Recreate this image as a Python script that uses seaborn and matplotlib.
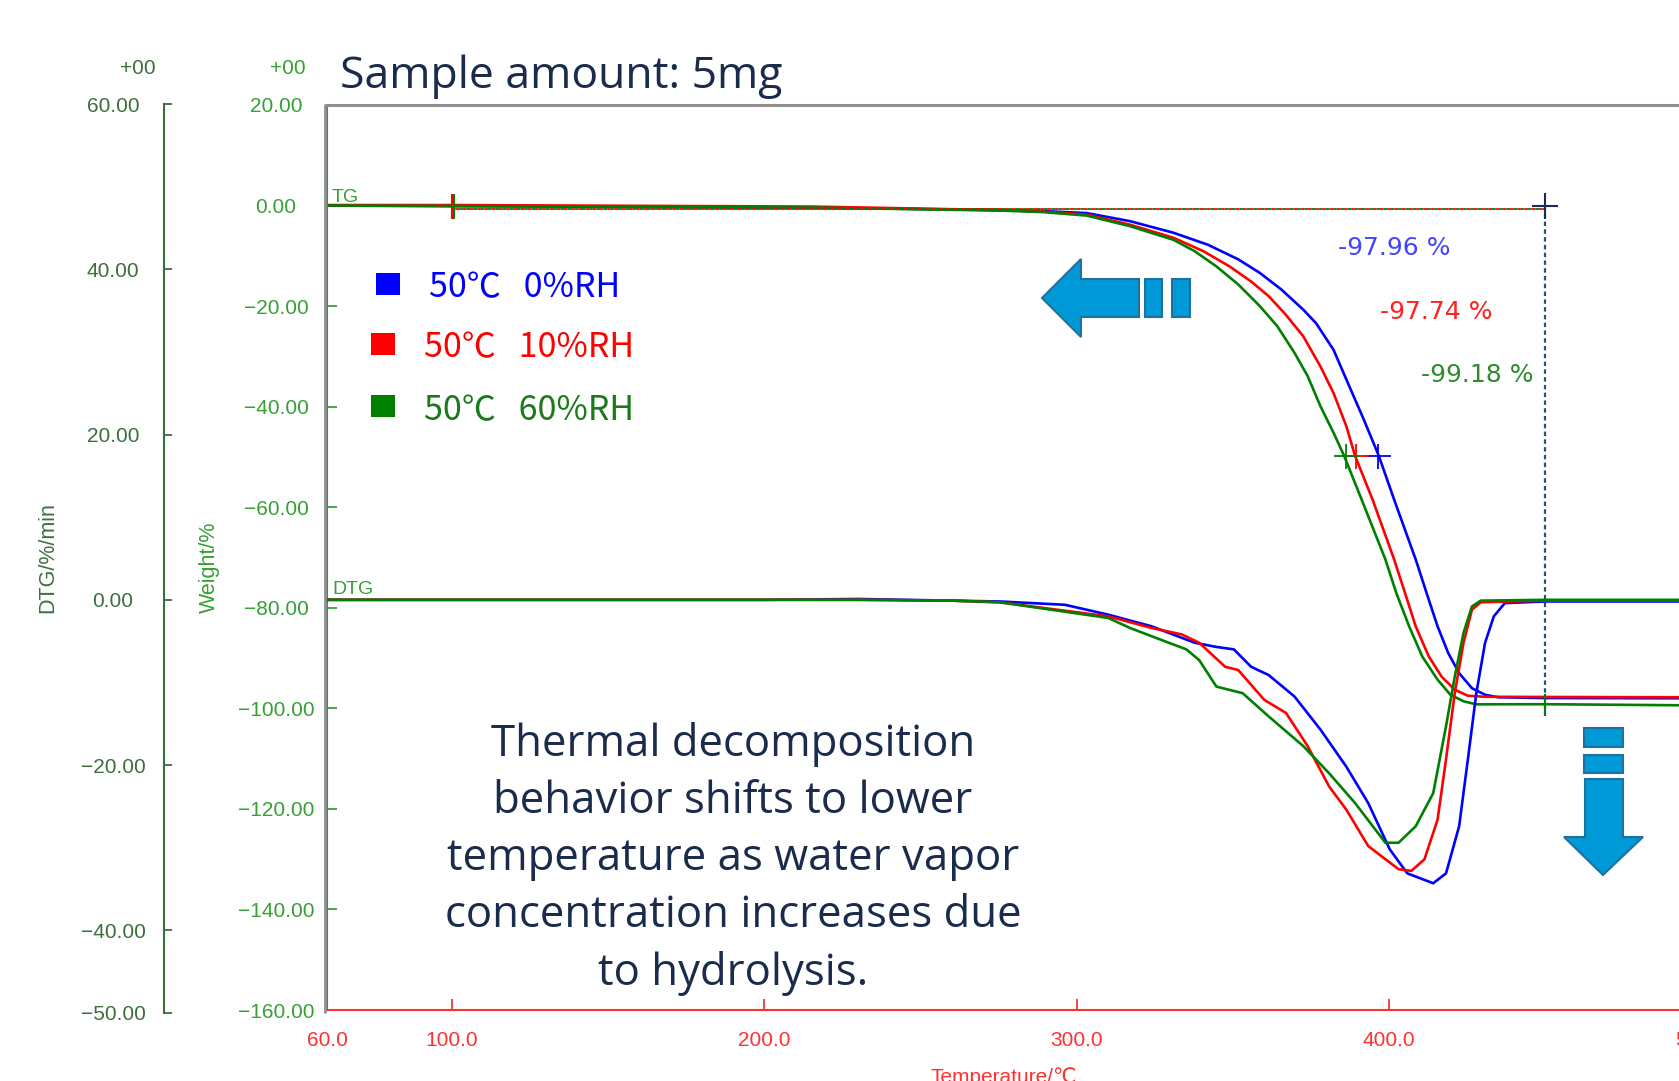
import numpy as np
import pandas as pd
import matplotlib
matplotlib.use("Agg")
import matplotlib.pyplot as plt
import seaborn as sns
from matplotlib.patches import Polygon, Rectangle
from matplotlib.lines import Line2D
from matplotlib.ticker import FuncFormatter

# ---------------- data ----------------
conditions = ["50℃   0%RH", "50℃   10%RH", "50℃   60%RH"]

# TG curves (Temperature °C, Weight %)
tg_T_0 = [60, 100, 215, 275.4, 289.3, 303.2, 317.0, 330.9, 342.0, 351.7, 358.6, 365.5, 372.5, 376.6, 382.2, 386.3,
          391.9, 396.7, 401.6, 408.5, 412.0, 415.5, 418.9, 422.4, 426.5, 430.7, 434.9, 450, 495]
tg_W_0 = [0, -0.1, -0.4, -0.9, -1.1, -1.5, -3.1, -5.4, -7.8, -10.7, -13.4, -16.7, -20.7, -23.4, -28.7, -34.6,
          -42.6, -49.8, -58.5, -70.4, -77.1, -83.7, -89.0, -93.0, -96.0, -97.3, -97.8, -97.96, -98.0]
tg_T_10 = [60, 100, 215, 275.4, 289.3, 303.2, 317.0, 330.9, 340.6, 348.9, 355.8, 361.4, 366.9, 372.5, 378.0, 382.2,
           386.3, 389.1, 394.7, 401.6, 405.1, 408.5, 412.7, 416.8, 421.0, 425.2, 430.7, 450, 495]
tg_W_10 = [0.1, 0.1, -0.2, -0.9, -1.2, -1.8, -3.8, -6.4, -9.1, -12.1, -15.1, -18.0, -21.7, -26.0, -32.0, -37.3,
           -43.9, -49.8, -58.5, -70.4, -77.1, -83.7, -89.7, -93.7, -96.3, -97.5, -97.7, -97.74, -97.8]
tg_T_60 = [60, 100, 215, 275.4, 289.3, 303.2, 317.0, 330.9, 337.8, 344.7, 351.7, 358.6, 364.2, 369.7, 373.9, 378.0,
           382.2, 385.6, 391.2, 398.8, 402.3, 406.4, 410.6, 415.5, 419.6, 423.8, 427.9, 450, 495]
tg_W_60 = [0, -0.1, -0.4, -1.0, -1.3, -2.0, -4.1, -6.8, -9.1, -12.1, -15.7, -20.0, -24.0, -29.3, -33.9, -39.9,
           -45.2, -49.8, -58.5, -70.4, -77.1, -83.7, -89.7, -94.3, -97.3, -98.6, -99.2, -99.18, -99.4]

# DTG curves (Temperature °C, DTG %/min)
dtg_T_0 = [60, 200, 230, 260, 275.4, 296.2, 310.1, 323.9, 337.8, 344.7, 350.3, 355.8, 361.4, 369.7, 378.0, 386.3, 393.3,
           400.2, 405.8, 414.1, 418.2, 422.4, 425.2, 427.9, 430.7, 433.5, 437.0, 450, 495]
dtg_D_0 = [0, 0, 0.1, -0.1, -0.2, -0.6, -1.8, -3.2, -5.2, -5.7, -6.0, -8.1, -9.1, -11.7, -15.7, -20.2, -24.6,
           -30.2, -33.1, -34.3, -33.1, -27.4, -19.3, -11.3, -5.2, -2.0, -0.4, -0.2, -0.2]
dtg_T_10 = [60, 200, 230, 260, 275.4, 310.1, 323.9, 333.7, 339.2, 347.5, 351.7, 360.0, 367.0, 373.9, 380.8, 386.3, 393.3,
            403.0, 407.1, 411.3, 415.5, 418.2, 421.0, 423.8, 426.5, 429.3, 450, 495]
dtg_D_10 = [0, 0, 0, -0.1, -0.3, -2.0, -3.4, -4.2, -5.2, -8.1, -8.5, -12.1, -13.7, -17.7, -22.6, -25.4, -29.8,
            -32.6, -32.8, -31.4, -26.6, -19.3, -11.3, -5.2, -1.2, -0.3, -0.1, -0.1]
dtg_T_60 = [60, 200, 230, 260, 275.4, 310.1, 317.0, 328.1, 335.1, 339.2, 344.7, 353.1, 361.4, 372.5, 380.8, 389.1, 398.8,
            403.0, 408.5, 414.1, 418.2, 421.0, 423.8, 426.5, 429.3, 450, 495]
dtg_D_60 = [0, 0, 0, -0.1, -0.3, -2.2, -3.4, -5.0, -6.0, -7.3, -10.5, -11.3, -14.1, -17.7, -21.0, -24.6, -29.4,
            -29.4, -27.4, -23.4, -15.3, -9.3, -4.0, -0.8, -0.1, 0, 0]

# analysis marks
step_start_T = 100
step_end_T = 450
half_W = -49.75
half_T = [396.3, 389.4, 386.2]
loss_labels = ["-97.96 %", "-97.74 %", "-99.18 %"]
loss_label_T = [401.7, 415.2, 428.3]
loss_label_W = [-8.4, -21.2, -33.8]
final_W_60 = -99.18

weight_ticks = [20, 0, -20, -40, -60, -80, -100, -120, -140, -160]
dtg_ticks = [60, 40, 20, 0, -20, -40, -50]
temp_ticks = [60, 100, 200, 300, 400, 500]

# ---------------- style ----------------
sns.set_theme(style="white")
plt.rcParams["font.family"] = ["Liberation Sans", "DejaVu Sans"]
plt.rcParams["axes.unicode_minus"] = True

BLUE, RED, GREEN = "#0000ff", "#ff0000", "#008000"
palette = dict(zip(conditions, [BLUE, RED, GREEN]))
W_COL = "#35a035"
D_COL = "#3d6e3d"
X_COL = "#ff3030"
NAVY = "#1a2b4c"
ARROW_FC, ARROW_EC = "#0099d8", "#1f6f9f"

FW, FH = 1679, 1081
fig = plt.figure(figsize=(FW / 100, FH / 100), dpi=100)


def fx(x):
    return x / FW


def fy(y):
    return 1 - y / FH


x_left_px, px_per_deg = 327, 3.124
xlim = (60, 520)
ax_w = (xlim[1] - xlim[0]) * px_per_deg

ax = fig.add_axes([fx(x_left_px), fy(1010), ax_w / FW, 905 / FH])
ax2 = fig.add_axes([fx(x_left_px), fy(1013), ax_w / FW, 909 / FH], sharex=ax)
ax2.patch.set_visible(False)

# ---------------- curves ----------------
tg_df = pd.concat([
    pd.DataFrame({"T": tg_T_0, "W": tg_W_0, "cond": conditions[0]}),
    pd.DataFrame({"T": tg_T_10, "W": tg_W_10, "cond": conditions[1]}),
    pd.DataFrame({"T": tg_T_60, "W": tg_W_60, "cond": conditions[2]}),
])
dtg_df = pd.concat([
    pd.DataFrame({"T": dtg_T_0, "D": dtg_D_0, "cond": conditions[0]}),
    pd.DataFrame({"T": dtg_T_10, "D": dtg_D_10, "cond": conditions[1]}),
    pd.DataFrame({"T": dtg_T_60, "D": dtg_D_60, "cond": conditions[2]}),
])

sns.lineplot(data=tg_df, x="T", y="W", hue="cond", hue_order=conditions, palette=palette,
             estimator=None, sort=False, legend=False, lw=1.9, ax=ax)
sns.lineplot(data=dtg_df, x="T", y="D", hue="cond", hue_order=conditions, palette=palette,
             estimator=None, sort=False, legend=False, lw=1.9, ax=ax2)

# step analysis lines
ax.plot([step_start_T, step_end_T], [-0.6, -0.6], color=GREEN, lw=1.3, ls=(0, (2, 2)))
ax.plot([step_start_T, step_end_T], [-0.6, -0.6], color=RED, lw=1.3, ls=(2, (2, 2)))
ax.plot([step_end_T, step_end_T], [0, -101.8], color="#1f5a66", lw=1.6, ls=(0, (2, 1.5)))
ax.plot([step_start_T], [0], marker="+", ms=18, mew=1.5, color=RED)
ax.plot([step_start_T + 0.7], [0], marker="+", ms=18, mew=1.5, color=GREEN)
ax.plot([step_end_T], [0], marker="+", ms=19, mew=1.5, color="#1a2a5a")
ax.plot([step_end_T], [final_W_60], marker="|", ms=14, mew=1.5, color=GREEN)
for t, c in zip(half_T, [BLUE, RED, GREEN]):
    ax.plot([t], [half_W], marker="+", ms=18, mew=1.3, color=c)

for lab, t, w, c in zip(loss_labels, loss_label_T, loss_label_W, ["#4444ff", "#ff2020", "#2e8b2e"]):
    ax.text(t, w, lab, color=c, fontsize=18, family="DejaVu Sans", ha="center", va="center")

# ---------------- axes styling ----------------
ax.set_xlim(*xlim)
ax.set_ylim(-160, 20)
ax2.set_ylim(-50, 60)
ax.set_xlabel("")
ax.set_ylabel("")
ax2.set_xlabel("")
ax2.set_ylabel("")

ax.spines["top"].set_color("#8f8f8f")
ax.spines["top"].set_linewidth(2.2)
ax.spines["left"].set_color("#2e9a2e")
ax.spines["left"].set_linewidth(1.5)
ax.spines["bottom"].set_color(X_COL)
ax.spines["bottom"].set_linewidth(1.5)
ax.spines["right"].set_visible(False)
for s in ["top", "right", "bottom"]:
    ax2.spines[s].set_visible(False)
ax2.spines["left"].set_position(("axes", (164 - x_left_px) / ax_w))
ax2.spines["left"].set_color(D_COL)
ax2.spines["left"].set_linewidth(1.5)

fmt2 = FuncFormatter(lambda v, p: f"{v:.2f}".replace("-", "\u2212"))
fmt1 = FuncFormatter(lambda v, p: f"{v:.1f}")

ax.set_yticks(weight_ticks)
ax.yaxis.set_major_formatter(fmt2)
ax.set_xticks(temp_ticks)
ax.xaxis.set_major_formatter(fmt1)
ax2.set_yticks(dtg_ticks)
ax2.yaxis.set_major_formatter(fmt2)

ax.tick_params(axis="y", direction="in", length=7, width=1.3, color=W_COL, labelcolor=W_COL,
               labelsize=15, pad=36.7, left=True)
ax.tick_params(axis="x", direction="in", length=8, width=1.3, color=X_COL, labelcolor=X_COL,
               labelsize=15, pad=15, bottom=True)
ax2.tick_params(axis="y", direction="in", length=6, width=1.3, color=D_COL, labelcolor=D_COL,
                labelsize=15, pad=36.7, left=True)
ax2.tick_params(axis="x", bottom=False, labelbottom=False)
plt.setp(ax.get_yticklabels(), ha="center")
plt.setp(ax2.get_yticklabels(), ha="center")

fig.add_artist(Line2D([fx(325), fx(325)], [fy(105), fy(1012)], color="#8f8f8f", lw=2.0))

# ---------------- texts ----------------
fig.text(fx(138), fy(68), "+00", color=D_COL, fontsize=15, ha="center", va="center")
fig.text(fx(288), fy(68), "+00", color=W_COL, fontsize=15, ha="center", va="center")
fig.text(fx(48), fy(558), "DTG/%/min", color=D_COL, fontsize=15.5, rotation=90, ha="center", va="center")
fig.text(fx(209), fy(567), "Weight/%", color=W_COL, fontsize=15.5, rotation=90, ha="center", va="center")
fig.text(fx(1004), fy(1083), "Temperature/℃", color=X_COL, fontsize=15, ha="center", va="baseline")
fig.text(fx(332), fy(198), "TG", color=W_COL, fontsize=14, ha="left", va="center")
fig.text(fx(332), fy(590), "DTG", color=W_COL, fontsize=14, ha="left", va="center")

fig.text(fx(340), fy(77), "Sample amount: 5mg", color=NAVY, fontsize=32, family="Open Sans",
         ha="left", va="center")
fig.text(fx(733), fy(859),
         "Thermal decomposition\nbehavior shifts to lower\ntemperature as water vapor\n"
         "concentration increases due\nto hydrolysis.",
         color=NAVY, fontsize=31.5, family="Open Sans", ha="center", va="center",
         multialignment="center", linespacing=1.37)

# legend (manual layout)
leg_sq = [(376, 273), (371, 333), (371, 395)]
leg_tx = [(429, 288), (424, 348), (424, 411)]
leg_txt_col = [BLUE, RED, "#1a7a1a"]
for (sx, sy), (tx, ty), cond, c, tc in zip(leg_sq, leg_tx, conditions, [BLUE, RED, GREEN], leg_txt_col):
    fig.add_artist(Rectangle((fx(sx), fy(sy + 22)), 24 / FW, 22 / FH, transform=fig.transFigure,
                             facecolor=c, edgecolor="none"))
    fig.text(fx(tx), fy(ty), cond, color=tc, fontsize=24.5,
             family=["Noto Sans CJK JP", "DejaVu Sans"], ha="left", va="center")

# arrows (decorations)
def poly(pts):
    return Polygon([(fx(x), fy(y)) for x, y in pts], closed=True, transform=fig.transFigure,
                   facecolor=ARROW_FC, edgecolor=ARROW_EC, lw=1.5)


fig.add_artist(poly([(1042, 298), (1081, 259), (1081, 279), (1139, 279), (1139, 317), (1081, 317), (1081, 337)]))
fig.add_artist(poly([(1145, 279), (1162, 279), (1162, 317), (1145, 317)]))
fig.add_artist(poly([(1172, 279), (1190, 279), (1190, 317), (1172, 317)]))
fig.add_artist(poly([(1584, 728), (1623, 728), (1623, 747), (1584, 747)]))
fig.add_artist(poly([(1584, 755), (1623, 755), (1623, 773), (1584, 773)]))
fig.add_artist(poly([(1585, 779), (1623, 779), (1623, 837), (1643, 837), (1603, 875), (1564, 837), (1585, 837)]))

fig.savefig("out.png", dpi=100)
